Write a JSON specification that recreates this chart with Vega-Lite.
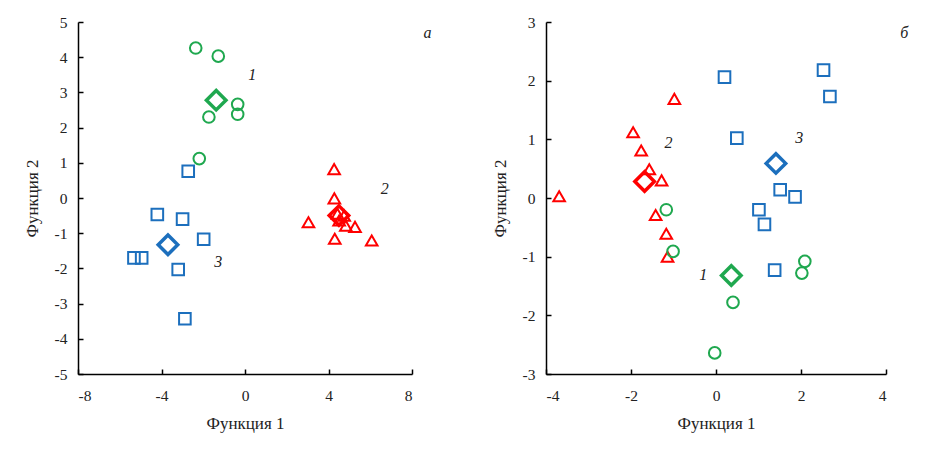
{
  "$schema": "https://vega.github.io/schema/vega-lite/v6.json",
  "background": "white",
  "padding": {"left": 23, "top": 15, "right": 5, "bottom": 5},
  "spacing": 134,
  "bounds": "flush",
  "config": {
    "view": {"stroke": null},
    "font": "Liberation Serif, Times New Roman, DejaVu Serif, serif",
    "axis": {
      "grid": false,
      "domainColor": "black",
      "domainWidth": 1.5,
      "tickColor": "black",
      "tickWidth": 1.5,
      "tickSize": -5,
      "labelFont": "Liberation Serif, Times New Roman, DejaVu Serif, serif",
      "labelFontSize": 15.5,
      "labelColor": "#222",
      "labelOverlap": false,
      "labelExpr": "datum.value < 0 ? '-' + abs(datum.value) : '' + datum.value",
      "titleFont": "Liberation Serif, Times New Roman, DejaVu Serif, serif",
      "titleFontSize": 17,
      "titleFontWeight": "normal",
      "titleColor": "#222"
    },
    "axisX": {"labelPadding": 19},
    "axisY": {"labelPadding": 16}
  },
  "datasets": {
    "ptsA": [
      {"x": -2.36, "y": 4.26, "g": "1"}, {"x": -1.28, "y": 4.03, "g": "1"}, {"x": -0.35, "y": 2.66, "g": "1"},
      {"x": -0.35, "y": 2.38, "g": "1"}, {"x": -1.73, "y": 2.30, "g": "1"}, {"x": -2.19, "y": 1.12, "g": "1"},
      {"x": -2.72, "y": 0.76, "g": "3"}, {"x": -4.20, "y": -0.47, "g": "3"}, {"x": -2.99, "y": -0.60, "g": "3"},
      {"x": -1.98, "y": -1.17, "g": "3"}, {"x": -5.32, "y": -1.70, "g": "3"}, {"x": -4.95, "y": -1.70, "g": "3"},
      {"x": -3.20, "y": -2.03, "g": "3"}, {"x": -2.88, "y": -3.43, "g": "3"},
      {"x": 4.27, "y": 0.82, "g": "2"}, {"x": 4.28, "y": -0.01, "g": "2"}, {"x": 3.04, "y": -0.69, "g": "2"},
      {"x": 4.30, "y": -1.16, "g": "2"}, {"x": 6.07, "y": -1.21, "g": "2"}, {"x": 5.27, "y": -0.82, "g": "2"},
      {"x": 4.43, "y": -0.45, "g": "2"}, {"x": 4.75, "y": -0.50, "g": "2"}, {"x": 4.51, "y": -0.64, "g": "2"},
      {"x": 4.83, "y": -0.79, "g": "2"}
    ],
    "cenA": [
      {"x": -1.38, "y": 2.78, "g": "1"}, {"x": 4.5, "y": -0.5, "g": "2"}, {"x": -3.69, "y": -1.33, "g": "3"}
    ],
    "labA": [
      {"x": 0.35, "y": 3.5, "t": "1"}, {"x": 6.7, "y": 0.26, "t": "2"}, {"x": -1.28, "y": -1.83, "t": "3"}, {"x": 8.74, "y": 4.7, "t": "а"}
    ],
    "ptsB": [
      {"x": 0.20, "y": 2.06, "g": "3"}, {"x": 2.53, "y": 2.18, "g": "3"}, {"x": 2.68, "y": 1.73, "g": "3"},
      {"x": 0.49, "y": 1.02, "g": "3"}, {"x": 1.51, "y": 0.14, "g": "3"}, {"x": 1.86, "y": 0.02, "g": "3"},
      {"x": 1.01, "y": -0.20, "g": "3"}, {"x": 1.14, "y": -0.45, "g": "3"}, {"x": 1.38, "y": -1.23, "g": "3"},
      {"x": -0.98, "y": 1.69, "g": "2"}, {"x": -1.95, "y": 1.12, "g": "2"}, {"x": -1.76, "y": 0.81, "g": "2"},
      {"x": -1.57, "y": 0.49, "g": "2"}, {"x": -1.28, "y": 0.30, "g": "2"}, {"x": -3.69, "y": 0.03, "g": "2"},
      {"x": -1.42, "y": -0.29, "g": "2"}, {"x": -1.17, "y": -0.61, "g": "2"}, {"x": -1.14, "y": -1.00, "g": "2"},
      {"x": -1.17, "y": -0.20, "g": "1"}, {"x": -1.01, "y": -0.91, "g": "1"}, {"x": 2.09, "y": -1.08, "g": "1"},
      {"x": 2.02, "y": -1.28, "g": "1"}, {"x": 0.40, "y": -1.78, "g": "1"}, {"x": -0.03, "y": -2.64, "g": "1"}
    ],
    "cenB": [
      {"x": 0.36, "y": -1.32, "g": "1"}, {"x": -1.68, "y": 0.28, "g": "2"}, {"x": 1.41, "y": 0.59, "g": "3"}
    ],
    "labB": [
      {"x": -0.30, "y": -1.32, "t": "1"}, {"x": -1.12, "y": 0.94, "t": "2"}, {"x": 1.96, "y": 1.02, "t": "3"}, {"x": 4.43, "y": 2.82, "t": "б"}
    ]
  },
  "hconcat": [
    {
      "width": 334,
      "height": 352,
      "layer": [
        {
          "data": {"name": "ptsA"},
          "mark": {"type": "point", "filled": false, "size": 135, "strokeWidth": 2, "opacity": 1},
          "encoding": {
            "x": {"field": "x", "type": "quantitative", "scale": {"domain": [-8, 8], "nice": false, "zero": false},
                  "axis": {"values": [-8, -4, 0, 4, 8], "labelOverlap": false, "title": "Функция 1", "titlePadding": 12}},
            "y": {"field": "y", "type": "quantitative", "scale": {"domain": [-5, 5], "nice": false, "zero": false},
                  "axis": {"values": [-5, -4, -3, -2, -1, 0, 1, 2, 3, 4, 5], "labelOverlap": false, "tickCount": 11, "title": "Функция 2", "titlePadding": 13}},
            "shape": {"field": "g", "type": "nominal", "scale": {"domain": ["1", "2", "3"], "range": ["circle", "triangle-up", "square"]}, "legend": null},
            "color": {"field": "g", "type": "nominal", "scale": {"domain": ["1", "2", "3"], "range": ["#1fa84f", "#ff0000", "#1c6fbd"]}, "legend": null}
          }
        },
        {
          "data": {"name": "cenA"},
          "mark": {"type": "point", "shape": "diamond", "filled": false, "size": 380, "strokeWidth": 3.5, "opacity": 1},
          "encoding": {
            "x": {"field": "x", "type": "quantitative"},
            "y": {"field": "y", "type": "quantitative"},
            "color": {"field": "g", "type": "nominal", "legend": null}
          }
        },
        {
          "data": {"name": "labA"},
          "mark": {"type": "text", "font": "Liberation Serif, Times New Roman, serif", "fontSize": 16, "fontStyle": "italic", "color": "#222"},
          "encoding": {
            "x": {"field": "x", "type": "quantitative"},
            "y": {"field": "y", "type": "quantitative"},
            "text": {"field": "t", "type": "nominal"}
          }
        }
      ]
    },
    {
      "width": 340,
      "height": 352,
      "layer": [
        {
          "data": {"name": "ptsB"},
          "mark": {"type": "point", "filled": false, "size": 135, "strokeWidth": 2, "opacity": 1},
          "encoding": {
            "x": {"field": "x", "type": "quantitative", "scale": {"domain": [-4, 4], "nice": false, "zero": false},
                  "axis": {"values": [-4, -2, 0, 2, 4], "labelOverlap": false, "title": "Функция 1", "titlePadding": 12}},
            "y": {"field": "y", "type": "quantitative", "scale": {"domain": [-3, 3], "nice": false, "zero": false},
                  "axis": {"values": [-3, -2, -1, 0, 1, 2, 3], "labelOverlap": false, "title": "Функция 2", "titlePadding": 13}},
            "shape": {"field": "g", "type": "nominal", "scale": {"domain": ["1", "2", "3"], "range": ["circle", "triangle-up", "square"]}, "legend": null},
            "color": {"field": "g", "type": "nominal", "scale": {"domain": ["1", "2", "3"], "range": ["#1fa84f", "#ff0000", "#1c6fbd"]}, "legend": null}
          }
        },
        {
          "data": {"name": "cenB"},
          "mark": {"type": "point", "shape": "diamond", "filled": false, "size": 380, "strokeWidth": 3.5, "opacity": 1},
          "encoding": {
            "x": {"field": "x", "type": "quantitative"},
            "y": {"field": "y", "type": "quantitative"},
            "color": {"field": "g", "type": "nominal", "legend": null}
          }
        },
        {
          "data": {"name": "labB"},
          "mark": {"type": "text", "font": "Liberation Serif, Times New Roman, serif", "fontSize": 16, "fontStyle": "italic", "color": "#222"},
          "encoding": {
            "x": {"field": "x", "type": "quantitative"},
            "y": {"field": "y", "type": "quantitative"},
            "text": {"field": "t", "type": "nominal"}
          }
        }
      ]
    }
  ]
}
